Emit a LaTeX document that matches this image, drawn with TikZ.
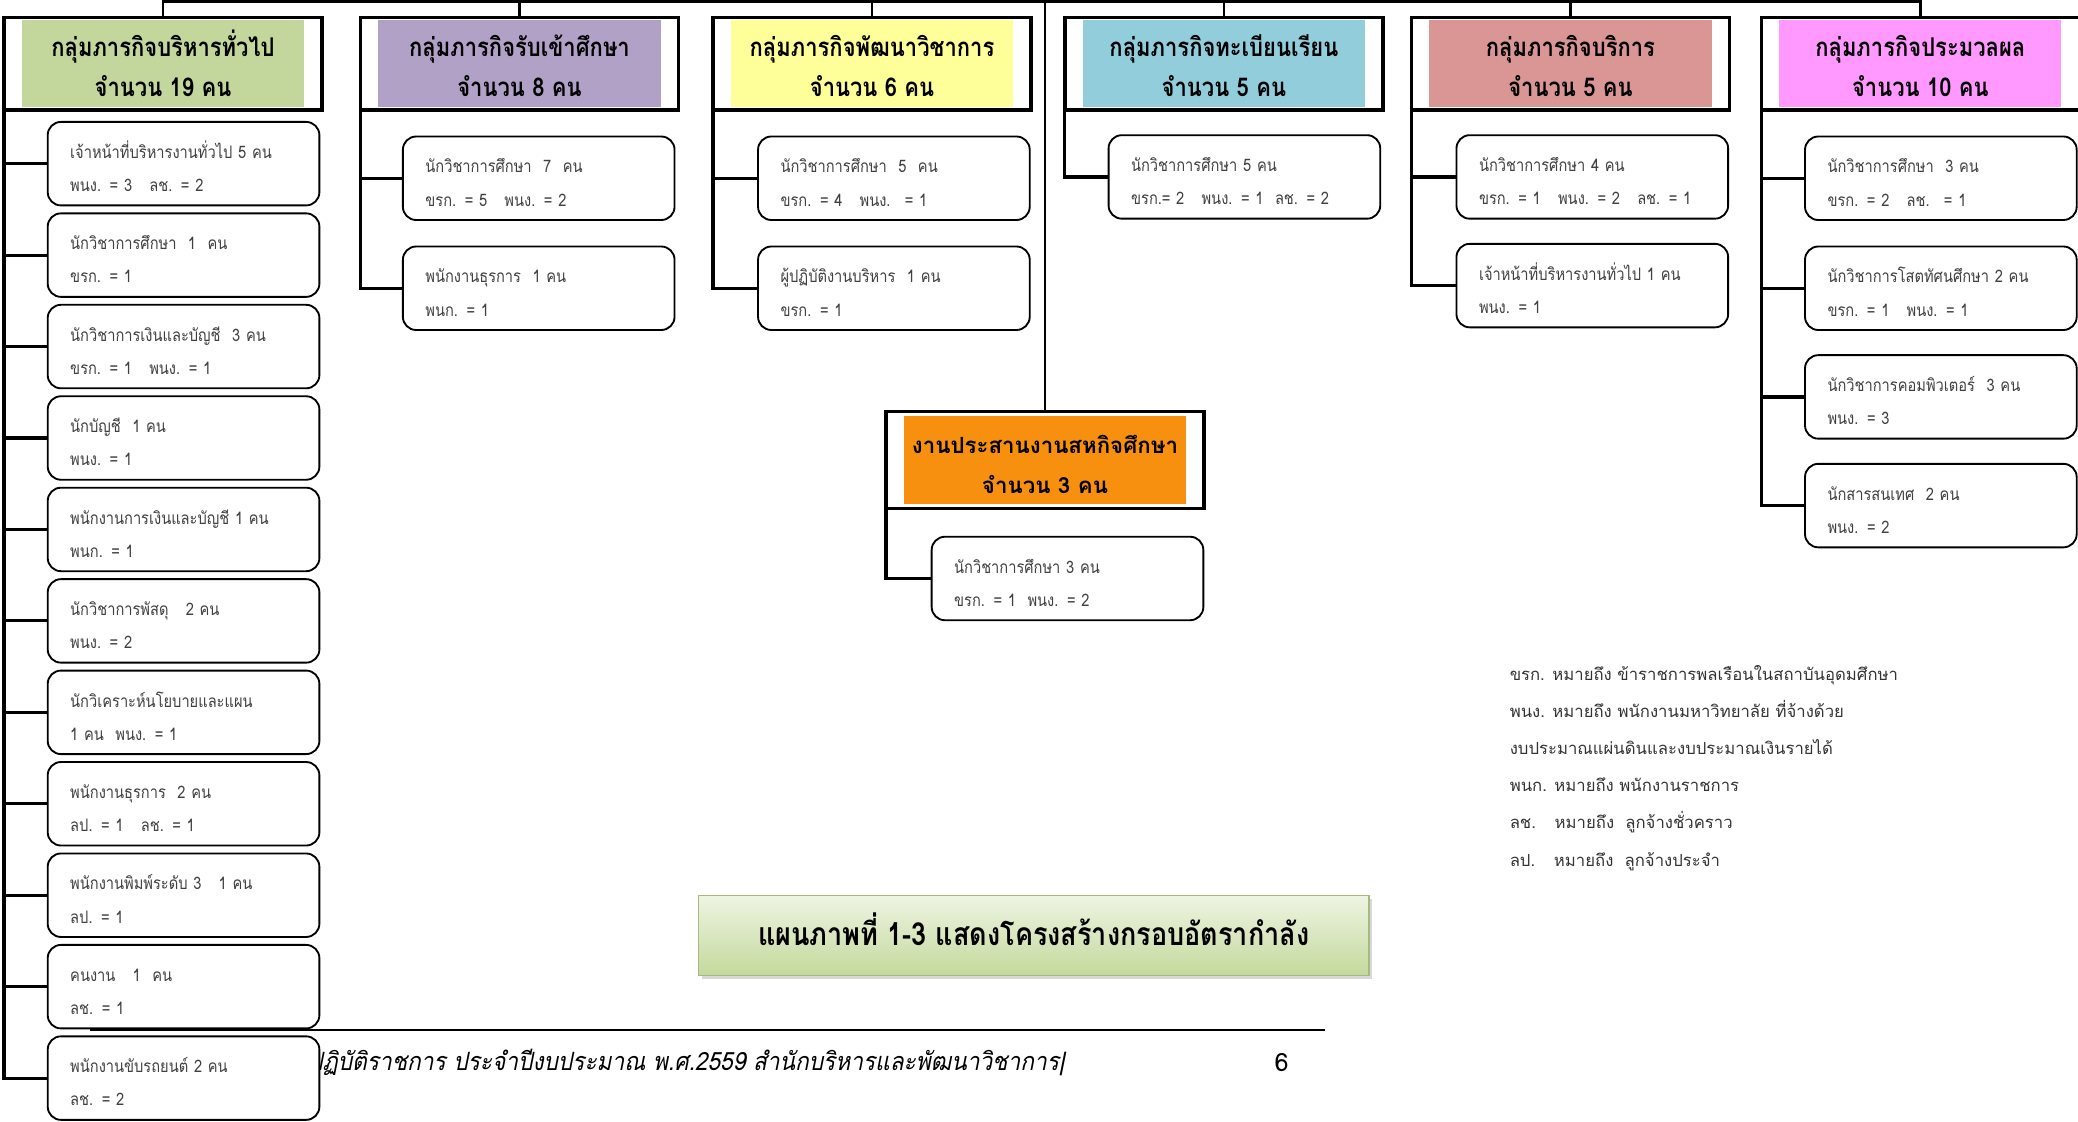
\documentclass[tikz,border=0pt]{standalone}
\usepackage{fontspec}
\setmainfont{Loma}[Script=Thai]
\newfontfamily\condfont{Loma}[Script=Thai,FakeStretch=0.85]
\newfontfamily\footfont{Loma}[Script=Thai,FakeStretch=0.9,FakeSlant=0.2]
\usetikzlibrary{positioning,shadows}

\definecolor{grpgreen}{HTML}{C3D69B}
\definecolor{grpviolet}{HTML}{B2A1C7}
\definecolor{grpyellow}{HTML}{FFFF99}
\definecolor{grpblue}{HTML}{92CDDC}
\definecolor{grprose}{HTML}{D99694}
\definecolor{grppink}{HTML}{FF99FF}
\definecolor{grporange}{HTML}{F7900E}
\definecolor{captop}{HTML}{EEF4E2}
\definecolor{capbot}{HTML}{C4D99C}

% two lines of a box, with struts so that every box sets them alike
\newcommand{\itemtext}[2]{\mbox{\rule{0pt}{23pt}#1}\\\mbox{\rule[-6pt]{0pt}{6pt}#2}}
\newcommand{\grptext}[2]{\rule{0pt}{28pt}#1\\\rule[-8pt]{0pt}{8pt}#2}

\tikzset{
  grpbox/.style={draw, line width=2.6pt, outer sep=0pt, minimum width=240pt, minimum height=70pt, inner sep=0pt},
  grptitle/.style={fill=#1, minimum width=213pt, minimum height=53pt, inner sep=0pt, align=center,
    font=\condfont\bfseries\fontsize{19.5}{30}\selectfont},
  itembox/.style={draw, line width=1.4pt, outer sep=0pt, rounded corners=10pt, fill=white, minimum height=63pt,
    text width=171pt, inner xsep=17pt, inner ysep=0pt, align=left, text=black!75,
    font=\condfont\fontsize{13}{25}\selectfont},
  capbox/.style={draw=capbot!85!black, line width=0.8pt, minimum width=506pt, minimum height=60pt,
    top color=captop, bottom color=capbot,
    drop shadow={shadow xshift=2.5pt, shadow yshift=-2.5pt, fill=black!30}},
  captext/.style={font=\condfont\bfseries\fontsize{24}{26}\selectfont},
  trunk/.style={line width=2.4pt},
  bar/.style={line width=1.8pt}
}

\begin{document}
\begin{tikzpicture}[x=1pt,y=1pt]
  \clip (0,0) rectangle (1568,-846);

  % footer of the page
  \coordinate (fl) at (68,-777);
  \coordinate (fr) at (1000,-777);
  \draw [line width=1.2pt] (fl) -- (fr);
  \node (foot) [anchor=east, font=\footfont\fontsize{19}{20}\selectfont] at (807,-802)
    {ปฏิบัติราชการ ประจำปีงบประมาณ พ.ศ.2559 สำนักบริหารและพัฒนาวิชาการ|};
  \node (pnum) [font=\fontsize{19}{20}\selectfont] at (967,-802) {6};

  % groups
  \node (g1) [grpbox] at (123,-48) {};
  \node (g1t) [grptitle=grpgreen] at (g1) {\grptext{กลุ่มภารกิจบริหารทั่วไป}{จำนวน 19 คน}};
  \node (g2) [grpbox] at (392,-48) {};
  \node (g2t) [grptitle=grpviolet] at (g2) {\grptext{กลุ่มภารกิจรับเข้าศึกษา}{จำนวน 8 คน}};
  \node (g3) [grpbox] at (658,-48) {};
  \node (g3t) [grptitle=grpyellow] at (g3) {\grptext{กลุ่มภารกิจพัฒนาวิชาการ}{จำนวน 6 คน}};
  \node (g4) [grpbox] at (923.5,-48) {};
  \node (g4t) [grptitle=grpblue] at (g4) {\grptext{กลุ่มภารกิจทะเบียนเรียน}{จำนวน 5 คน}};
  \node (g5) [grpbox] at (1185,-48) {};
  \node (g5t) [grptitle=grprose] at (g5) {\grptext{กลุ่มภารกิจบริการ}{จำนวน 5 คน}};
  \node (g6) [grpbox] at (1449,-48) {};
  \node (g6t) [grptitle=grppink] at (g6) {\grptext{กลุ่มภารกิจประมวลผล}{จำนวน 10 คน}};
  \node (org) [grpbox, minimum height=73pt] at (788.5,-347) {};
  \node (orgt) [grptitle=grporange, minimum height=55pt, font=\bfseries\fontsize{16.8}{30}\selectfont]
    at (org) {\grptext{งานประสานงานสหกิจศึกษา}{จำนวน 3 คน}};

  % top bar
  \coordinate (top) at (788.5,-1);
  \draw [bar] (g1.north) |- (g6.north |- top) -- (g6.north);
  \draw [bar] (g2.north) -- (g2.north |- top);
  \draw [bar] (g3.north) -- (g3.north |- top);
  \draw [bar] (g4.north) -- (g4.north |- top);
  \draw [bar] (g5.north) -- (g5.north |- top);
  \draw [line width=1.4pt] (top) -- (org.north);

  % general administration
  \node (g1c1) [itembox] at (138.5,-123.5) {\itemtext{เจ้าหน้าที่บริหารงานทั่วไป 5 คน}{พนง. = 3~~ ลช. = 2}};
  \node (g1c2) [itembox, below=6pt of g1c1] {\itemtext{นักวิชาการศึกษา~ 1~ คน}{ขรก. = 1}};
  \node (g1c3) [itembox, below=6pt of g1c2] {\itemtext{นักวิชาการเงินและบัญชี~ 3 คน}{ขรก. = 1~~ พนง. = 1}};
  \node (g1c4) [itembox, below=6pt of g1c3] {\itemtext{นักบัญชี~ 1 คน}{พนง. = 1}};
  \node (g1c5) [itembox, below=6pt of g1c4] {\itemtext{พนักงานการเงินและบัญชี 1 คน}{พนก. = 1}};
  \node (g1c6) [itembox, below=6pt of g1c5] {\itemtext{นักวิชาการพัสดุ~~ 2 คน}{พนง. = 2}};
  \node (g1c7) [itembox, below=6pt of g1c6] {\itemtext{นักวิเคราะห์นโยบายและแผน}{1 คน~ พนง. = 1}};
  \node (g1c8) [itembox, below=6pt of g1c7] {\itemtext{พนักงานธุรการ~ 2 คน}{ลป. = 1~~ ลช. = 1}};
  \node (g1c9) [itembox, below=6pt of g1c8] {\itemtext{พนักงานพิมพ์ระดับ 3~~ 1 คน}{ลป. = 1}};
  \node (g1c10) [itembox, below=6pt of g1c9] {\itemtext{คนงาน~~ 1~ คน}{ลช. = 1}};
  \node (g1c11) [itembox, below=6pt of g1c10] {\itemtext{พนักงานขับรถยนต์ 2 คน}{ลช. = 2}};
  \draw [trunk] (g1.south west) |- (g1c1.west);
  \draw [trunk] (g1.south west) |- (g1c2.west);
  \draw [trunk] (g1.south west) |- (g1c3.west);
  \draw [trunk] (g1.south west) |- (g1c4.west);
  \draw [trunk] (g1.south west) |- (g1c5.west);
  \draw [trunk] (g1.south west) |- (g1c6.west);
  \draw [trunk] (g1.south west) |- (g1c7.west);
  \draw [trunk] (g1.south west) |- (g1c8.west);
  \draw [trunk] (g1.south west) |- (g1c9.west);
  \draw [trunk] (g1.south west) |- (g1c10.west);
  \draw [trunk] (g1.south west) |- (g1c11.west);

  % admission
  \node (g2c1) [itembox] at (406.5,-134.5) {\itemtext{นักวิชาการศึกษา~ 7~ คน}{ขรก. = 5~~ พนง. = 2}};
  \node (g2c2) [itembox, below=20pt of g2c1] {\itemtext{พนักงานธุรการ~ 1 คน}{พนก. = 1}};
  \draw [trunk] (g2.south west) |- (g2c1.west);
  \draw [trunk] (g2.south west) |- (g2c2.west);

  % academic development
  \node (g3c1) [itembox] at (674.5,-134.5) {\itemtext{นักวิชาการศึกษา~ 5~ คน}{ขรก. = 4~~ พนง.~ = 1}};
  \node (g3c2) [itembox, below=20pt of g3c1] {\itemtext{ผู้ปฏิบัติงานบริหาร~ 1 คน}{ขรก. = 1}};
  \draw [trunk] (g3.south west) |- (g3c1.west);
  \draw [trunk] (g3.south west) |- (g3c2.west);

  % registration
  \node (g4c1) [itembox] at (939,-133.5) {\itemtext{นักวิชาการศึกษา 5 คน}{ขรก.= 2~~ พนง. = 1~ ลช. = 2}};
  \draw [trunk] (g4.south west) |- (g4c1.west);

  % service
  \node (g5c1) [itembox] at (1201.5,-133.5) {\itemtext{นักวิชาการศึกษา 4 คน}{ขรก. = 1~~ พนง. = 2~~ ลช. = 1}};
  \node (g5c2) [itembox, below=19pt of g5c1] {\itemtext{เจ้าหน้าที่บริหารงานทั่วไป 1 คน}{พนง. = 1}};
  \draw [trunk] (g5.south west) |- (g5c1.west);
  \draw [trunk] (g5.south west) |- (g5c2.west);

  % processing
  \node (g6c1) [itembox] at (1464.5,-134.5) {\itemtext{นักวิชาการศึกษา~ 3 คน}{ขรก. = 2~~ ลช.~ = 1}};
  \node (g6c2) [itembox, below=20pt of g6c1] {\itemtext{นักวิชาการโสตทัศนศึกษา 2 คน}{ขรก. = 1~~ พนง. = 1}};
  \node (g6c3) [itembox, below=19pt of g6c2] {\itemtext{นักวิชาการคอมพิวเตอร์~ 3 คน}{พนง. = 3}};
  \node (g6c4) [itembox, below=19pt of g6c3] {\itemtext{นักสารสนเทศ~ 2 คน}{พนง. = 2}};
  \draw [trunk] (g6.south west) |- (g6c1.west);
  \draw [trunk] (g6.south west) |- (g6c2.west);
  \draw [trunk] (g6.south west) |- (g6c3.west);
  \draw [trunk] (g6.south west) |- (g6c4.west);

  % cooperative education
  \node (orgc1) [itembox] at (805.5,-436.5) {\itemtext{นักวิชาการศึกษา 3 คน}{ขรก. = 1~ พนง. = 2}};
  \draw [trunk] (org.south west) |- (orgc1.west);

  % legend and caption
  \node (legend) [anchor=north west, align=left, inner sep=0pt, text=black!80,
    font=\fontsize{12.6}{28}\selectfont] at (1139,-502) {ขรก. หมายถึง ข้าราชการพลเรือนในสถาบันอุดมศึกษา\\
    พนง. หมายถึง พนักงานมหาวิทยาลัย ที่จ้างด้วย\\
    งบประมาณแผ่นดินและงบประมาณเงินรายได้\\
    พนก. หมายถึง พนักงานราชการ\\
    ลช.~~ หมายถึง~ ลูกจ้างชั่วคราว\\
    ลป.~~ หมายถึง~ ลูกจ้างประจำ};
  \node (cap) [capbox] at (780,-706) {};
  \node (capt) [captext] at ([yshift=5pt]cap.center) {แผนภาพที่ 1-3 แสดงโครงสร้างกรอบอัตรากำลัง};
\end{tikzpicture}
\end{document}
